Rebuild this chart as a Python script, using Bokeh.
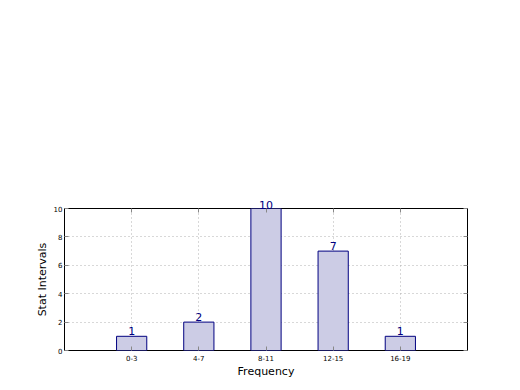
from bokeh.plotting import figure
from bokeh.models import ColumnDataSource, FixedTicker, Range1d, Label, LinearAxis
from bokeh.embed import file_html
from bokeh.resources import INLINE

categories = ["0-3", "4-7", "8-11", "12-15", "16-19"]
counts = [1, 2, 10, 7, 1]
positions = [1, 2, 3, 4, 5]
y_ticks = [0, 2, 4, 6, 8, 10]

FONT = "DejaVu Sans"
NAVY = "#000080"

src = ColumnDataSource(dict(x=positions, top=counts))

p = figure(width=520, height=390, output_backend="svg", toolbar_location=None,
           x_range=Range1d(0, 6), y_range=Range1d(0, y_ticks[-1]),
           min_border_left=64, min_border_right=53, min_border_top=208, min_border_bottom=40)
p.frame_width = 403
p.frame_height = 142

bottom_axis = p.below[0]
left_axis = p.left[0]

p.vbar(x="x", top="top", width=0.45, bottom=0, source=src,
       fill_color="#ccccE5", line_color=NAVY, line_width=1)

# value labels; those at the top edge go on a top axis so they are not clipped
top_overrides = {}
for xv, c in zip(positions, counts):
    if c >= y_ticks[-1]:
        top_overrides[xv] = str(c)
    else:
        top_overrides[xv] = ""
        p.add_layout(Label(x=xv, y=c, text=str(c), text_align="center",
                           text_baseline="bottom", text_color=NAVY,
                           text_font_size="11px", text_font=FONT, y_offset=1))

top_axis = LinearAxis(ticker=FixedTicker(ticks=positions), major_label_overrides=top_overrides)
right_axis = LinearAxis(ticker=FixedTicker(ticks=y_ticks),
                        major_label_overrides={t: "" for t in y_ticks})
p.add_layout(top_axis, "above")
p.add_layout(right_axis, "right")

p.outline_line_color = "black"
p.outline_line_width = 1
p.background_fill_color = "white"
p.border_fill_color = "white"

for ax in (bottom_axis, left_axis, top_axis, right_axis):
    ax.axis_line_color = None
    ax.major_tick_in = 4
    ax.major_tick_out = 0
    ax.major_tick_line_color = "#888888"
    ax.minor_tick_line_color = None
    ax.major_label_text_font = FONT
    ax.major_label_text_font_size = "7px"
    ax.major_label_text_color = "black"
    ax.axis_label_text_font = FONT
    ax.axis_label_text_font_size = "11px"
    ax.axis_label_text_font_style = "normal"
    ax.axis_label_text_color = "black"

top_axis.major_label_text_font_size = "11px"
top_axis.major_label_text_color = NAVY
top_axis.major_label_standoff = 0
right_axis.major_label_standoff = 0

bottom_axis.ticker = FixedTicker(ticks=positions)
bottom_axis.major_label_overrides = {pos: c for pos, c in zip(positions, categories)}
left_axis.ticker = FixedTicker(ticks=y_ticks)
bottom_axis.axis_label = "Frequency"
left_axis.axis_label = "Stat Intervals"
bottom_axis.axis_label_standoff = 1
left_axis.axis_label_standoff = 2
bottom_axis.major_label_standoff = 4
left_axis.major_label_standoff = 2

p.grid.grid_line_color = "#b0b0b0"
p.grid.grid_line_dash = "1 3"
p.grid.grid_line_width = 1

open("out.html", "w").write(file_html(p, INLINE))
